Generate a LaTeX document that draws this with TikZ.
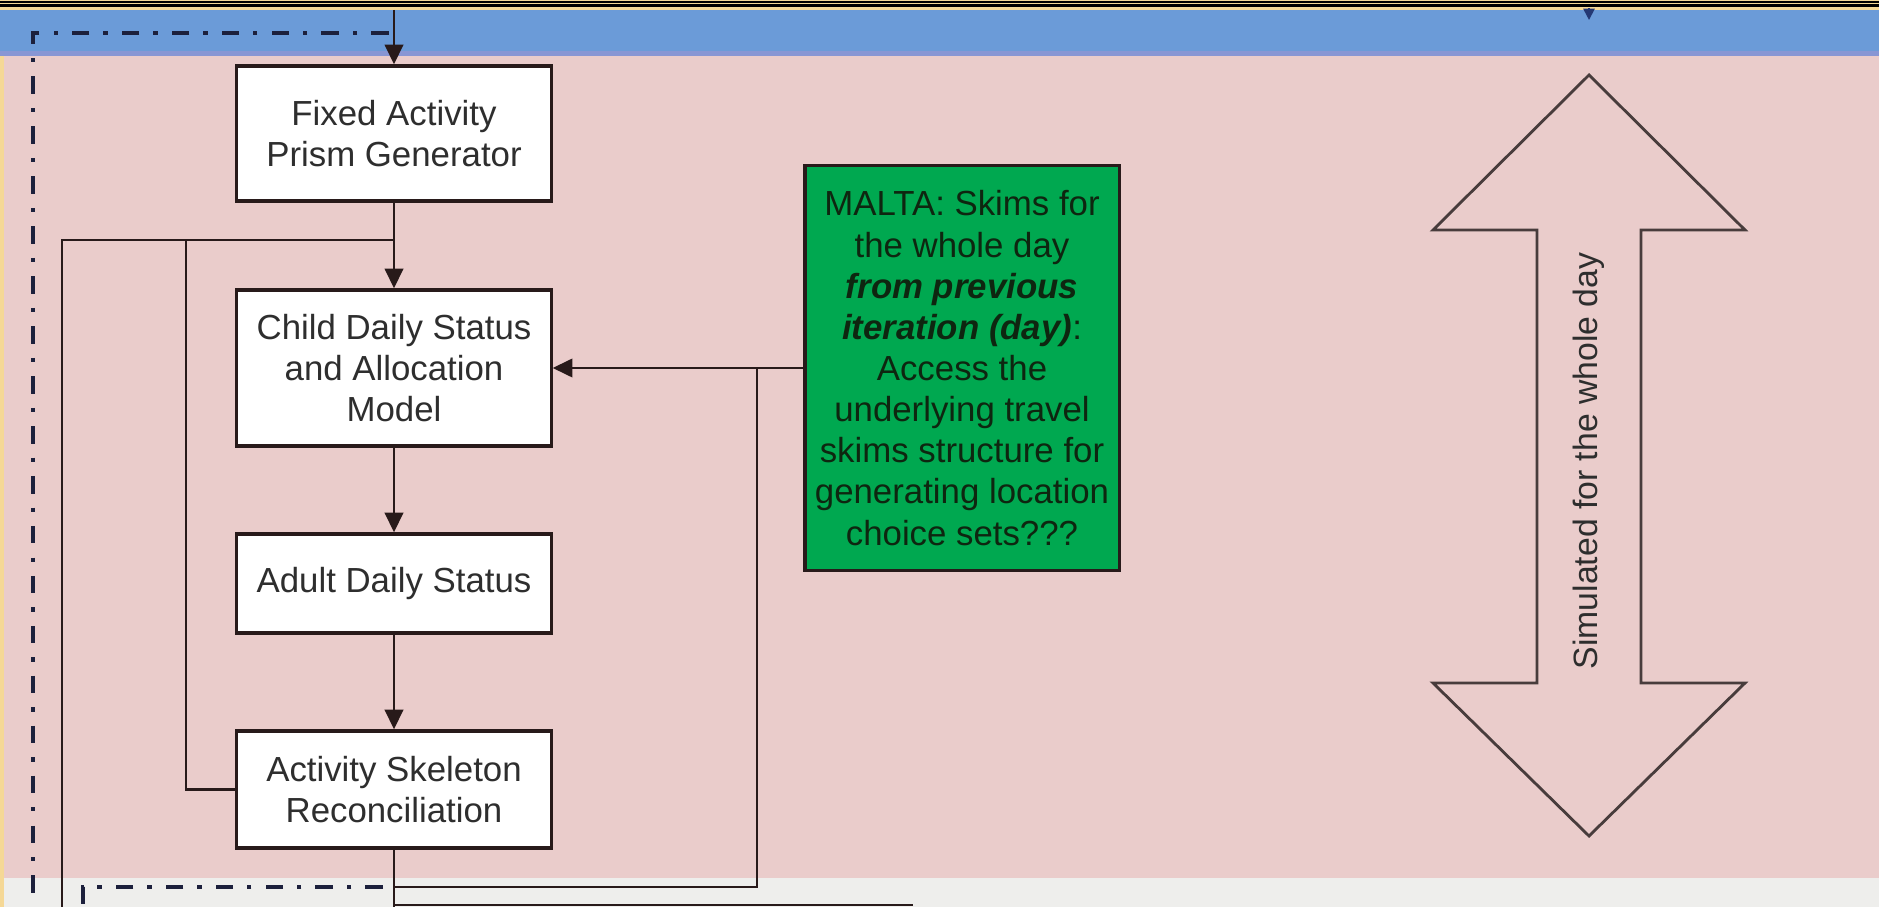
\documentclass[tikz,border=0pt]{standalone}
\usepackage{fontspec}
\setmainfont{Liberation Sans}
\usetikzlibrary{arrows.meta}

\definecolor{bandblue}{RGB}{107,155,216}
\definecolor{bandlav}{RGB}{136,150,212}
\definecolor{rose}{RGB}{234,204,203}
\definecolor{paper}{RGB}{238,238,236}
\definecolor{rimgold}{RGB}{245,216,150}
\definecolor{ink}{RGB}{40,26,26}
\definecolor{phaseink}{RGB}{28,32,60}
\definecolor{malta}{RGB}{0,168,80}
\definecolor{maltaink}{RGB}{14,38,16}
\definecolor{tipblue}{RGB}{36,56,116}

\begin{document}
\begin{tikzpicture}[x=0.01cm,y=-0.01cm,
  stepbox/.style={draw=ink, line width=0.9pt, fill=white, text=black!82,
    minimum width=3.14cm, align=center, inner sep=0pt,
    font=\fontsize{9.9pt}{11.7pt}\selectfont},
  notebox/.style={stepbox, fill=malta, text=maltaink},
  wire/.style={draw=ink, line width=0.8pt},
  flow/.style={wire, -{Triangle[length=5.6pt,width=5.2pt]}},
  phase/.style={draw=phaseink, line width=1pt,
    dash pattern=on 5pt off 4pt on 1.2pt off 4pt}]

\useasboundingbox (0,0) rectangle (1879,907);

% backgrounds: framed top rim, blue band, rose panel, grey strip
\fill[rimgold] (0,0) rectangle (1879,10);
\fill[black] (0,1) rectangle (1879,2.7);
\fill[black] (0,4) rectangle (1879,7.3);
\fill[bandblue] (0,10) rectangle (1879,52);
\fill[bandlav] (0,51) rectangle (1879,56);
\fill[rose] (0,56) rectangle (1879,878);
\fill[paper] (0,878) rectangle (1879,907);
\fill[rimgold] (0,56) rectangle (4,907);

% phase brackets
\draw[phase] (389,33) -- (33,33) -- (33,907);
\draw[phase] (383,887) -- (83,887) -- (83,907);

% process steps
\node[stepbox, minimum height=1.35cm] (fixed) at (394,133.5)
  {Fixed Activity\\Prism Generator};
\node[stepbox, minimum height=1.56cm] (child) at (394,368)
  {Child Daily Status\\and Allocation\\Model};
\node[stepbox, minimum height=0.99cm] (adult) at (394,583.5)
  {Adult Daily Status};
\node[stepbox, minimum height=1.17cm] (skel) at (394,789.5)
  {Activity Skeleton\\Reconciliation};

\node[notebox, minimum height=4.05cm] (malta) at (962,368)
  {MALTA: Skims for\\the whole day\\\textbf{\textit{from previous}}\\
   \textbf{\textit{iteration (day)}}:\\Access the\\underlying travel\\
   skims structure for\\generating location\\choice sets???};

% main chain
\coordinate (entry) at (394,10);
\draw[flow] (entry) -- (fixed.north);
\draw[flow] (fixed.south) -- (child.north);
\draw[flow] (child.south) -- (adult.north);
\draw[flow] (adult.south) -- (skel.north);

% feedback loops on the left
\coordinate (loopjoin) at (394,240);
\coordinate (loopmid) at (186,240);
\coordinate (loopout) at (62,240);
\coordinate (loopoutend) at (62,907);
\coordinate (loopmidturn) at (186,789.5);
\draw[wire] (loopjoin) -- (loopout) -- (loopoutend);
\draw[wire] (loopmid) -- (loopmidturn) -- (skel.west);

% skims input and its branch down
\draw[flow] (malta.west) -- (child.east);
\coordinate (skimsjoin) at (757,368);
\coordinate (skimsturn) at (757,887);
\coordinate (skimsend) at (394,887);
\draw[wire] (skimsjoin) -- (skimsturn) -- (skimsend);

% continuation below the skeleton step
\coordinate (skeldown) at (394,907);
\draw[wire] (skel.south) -- (skeldown);
\coordinate (lowstart) at (394,905);
\coordinate (lowend) at (913,905);
\draw[wire] (lowstart) -- (lowend);

% small incoming tip in the blue band
\coordinate (tiptop) at (1589,8);
\coordinate (tipend) at (1589,20);
\draw[draw=tipblue, line width=0.5pt, -{Triangle[length=3.2pt,width=3.2pt]}] (tiptop) -- (tipend);

% double-headed block arrow
\draw[draw=ink!85, line width=0.8pt, line join=miter]
  (1589,75) -- (1745,230) -- (1641,230) -- (1641,683) -- (1745,683)
  -- (1589,836) -- (1433,683) -- (1537,683) -- (1537,230) -- (1433,230) -- cycle;
\node[rotate=90, text=black!82, font=\fontsize{9.6pt}{11pt}\selectfont] (daylabel)
  at (1589,461) {Simulated for the whole day};

\end{tikzpicture}
\end{document}
